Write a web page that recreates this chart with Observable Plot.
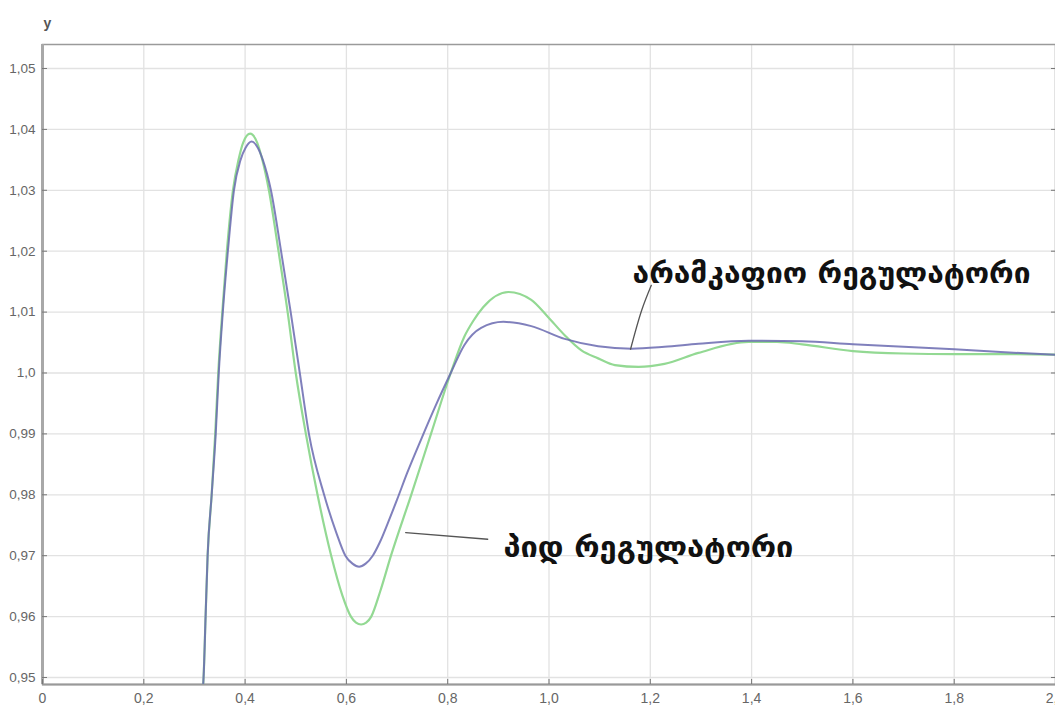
<!DOCTYPE html>
<html>
<head>
<meta charset="utf-8">
<script src="https://cdn.jsdelivr.net/npm/d3@7"></script>
<script src="https://cdn.jsdelivr.net/npm/@observablehq/plot@0.6"></script>
<style>
  html, body { margin: 0; padding: 0; background: #fff; }
  #chart svg { display: block; }
</style>
</head>
<body>
<div id="chart"></div>
<script>
// ---- data ----
const xTicks = [0, 0.2, 0.4, 0.6, 0.8, 1.0, 1.2, 1.4, 1.6, 1.8, 2.0];
const xTickLabels = ["0", "0,2", "0,4", "0,6", "0,8", "1,0", "1,2", "1,4", "1,6", "1,8", "2,0"];
const yTicks = [0.95, 0.96, 0.97, 0.98, 0.99, 1.0, 1.01, 1.02, 1.03, 1.04, 1.05];
const yTickLabels = ["0,95", "0,96", "0,97", "0,98", "0,99", "1,0", "1,01", "1,02", "1,03", "1,04", "1,05"];
const xDomain = [0, 2.0];
const yDomain = [0.94885, 1.05394];

const fuzzyName = "არამკაფიო რეგულატორი";
const fuzzyX = [0.300, 0.318, 0.322, 0.326, 0.334, 0.342, 0.348, 0.356, 0.366, 0.378, 0.391, 0.401, 0.413, 0.425, 0.435, 0.451, 0.471, 0.490, 0.508, 0.526, 0.556, 0.580, 0.598, 0.612, 0.625, 0.638, 0.652, 0.666, 0.682, 0.700, 0.720, 0.748, 0.776, 0.806, 0.833, 0.866, 0.910, 0.965, 1.031, 1.097, 1.163, 1.228, 1.295, 1.394, 1.500, 1.600, 1.700, 1.800, 1.900, 2.000];
const fuzzyY = [0.935, 0.950, 0.960, 0.970, 0.980, 0.990, 1.000, 1.010, 1.020, 1.030, 1.035, 1.037, 1.0380, 1.037, 1.035, 1.030, 1.020, 1.010, 1.000, 0.990, 0.980, 0.9738, 0.9700, 0.9687, 0.9682, 0.9687, 0.9700, 0.9722, 0.9754, 0.9792, 0.9836, 0.9892, 0.9946, 1.0000, 1.0046, 1.0074, 1.0084, 1.0077, 1.0056, 1.0044, 1.0040, 1.0043, 1.0048, 1.0053, 1.0052, 1.0047, 1.0043, 1.0039, 1.0034, 1.0030];

const pidName = "პიდ რეგულატორი";
const pidX = [0.300, 0.318, 0.322, 0.326, 0.334, 0.341, 0.347, 0.355, 0.364, 0.376, 0.387, 0.396, 0.410, 0.424, 0.434, 0.447, 0.466, 0.484, 0.500, 0.520, 0.543, 0.570, 0.592, 0.609, 0.619, 0.629, 0.639, 0.649, 0.667, 0.688, 0.728, 0.767, 0.806, 0.833, 0.850, 0.870, 0.920, 0.965, 0.998, 1.031, 1.064, 1.097, 1.130, 1.177, 1.228, 1.295, 1.394, 1.450, 1.500, 1.600, 1.700, 1.800, 1.900, 2.000];
const pidY = [0.935, 0.950, 0.960, 0.970, 0.980, 0.990, 1.000, 1.010, 1.020, 1.030, 1.035, 1.0378, 1.0393, 1.0378, 1.035, 1.030, 1.020, 1.010, 1.000, 0.990, 0.980, 0.970, 0.9635, 0.9600, 0.9590, 0.9587, 0.9590, 0.9600, 0.9642, 0.970, 0.980, 0.990, 1.000, 1.0060, 1.0085, 1.0108, 1.0133, 1.0120, 1.0092, 1.0062, 1.0037, 1.0024, 1.0013, 1.0010, 1.0015, 1.0033, 1.0051, 1.0051, 1.0047, 1.0036, 1.0032, 1.0031, 1.0031, 1.0030];

// annotation anchors (data coordinates)
const fuzzyLabelPos = {x: 1.165, y: 1.0163};
const fuzzyLeaderX = [1.202, 1.183, 1.161];
const fuzzyLeaderY = [1.0144, 1.0103, 1.0039];
const pidLabelPos = {x: 0.910, y: 0.9712};
const pidLeaderX = [0.717, 0.879];
const pidLeaderY = [0.9738, 0.9727];

// ---- build ----
const fuzzy = fuzzyX.map((x, i) => ({x, y: fuzzyY[i]}));
const pid = pidX.map((x, i) => ({x, y: pidY[i]}));
const fuzzyLeader = fuzzyLeaderX.map((x, i) => ({x, y: fuzzyLeaderY[i]}));
const pidLeader = pidLeaderX.map((x, i) => ({x, y: pidLeaderY[i]}));
const fmtX = d => xTickLabels[xTicks.findIndex(t => Math.abs(t - d) < 1e-9)];
const fmtY = d => yTickLabels[yTicks.findIndex(t => Math.abs(t - d) < 1e-9)];

const labelFont = "DejaVu Sans, Noto Sans, sans-serif";
const tickFont = "Liberation Sans, Arial, sans-serif";

const chart = Plot.plot({
  width: 1055,
  height: 711,
  marginLeft: 42,
  marginRight: 0,
  marginTop: 44,
  marginBottom: 27,
  style: {background: "#fff", fontFamily: tickFont, fontSize: "13px", color: "#666"},
  x: {domain: xDomain},
  y: {domain: yDomain},
  marks: [
    Plot.gridX(xTicks, {stroke: "#e2e2e2", strokeOpacity: 1, strokeWidth: 1.3}),
    Plot.gridY(yTicks, {stroke: "#e2e2e2", strokeOpacity: 1, strokeWidth: 1.3}),
    Plot.frame({stroke: "#9a9a9a", strokeWidth: 1.5}),
    Plot.ruleX([xDomain[0]], {stroke: "#a8a8a8", strokeWidth: 3}),
    Plot.ruleY([yDomain[0]], {stroke: "#999", strokeWidth: 2}),
    Plot.axisX({ticks: xTicks, tickFormat: fmtX, tickSize: -5, tickPadding: 14, stroke: "#777", fill: "#666", fontSize: 14, label: null}),
    Plot.axisY({ticks: yTicks, tickFormat: fmtY, tickSize: -5, tickPadding: 12, stroke: "#777", fill: "#666", fontSize: 13.5, label: null}),
    Plot.axisY({anchor: "right", ticks: yTicks, tickFormat: () => "", tickSize: -5, stroke: "#777", label: null}),
    Plot.line(pid, {x: "x", y: "y", stroke: "#93d993", strokeWidth: 2.2, curve: "monotone-x", clip: true}),
    Plot.line(fuzzy, {x: "x", y: "y", stroke: "#6a6ab0", strokeWidth: 2, strokeOpacity: 0.85, curve: "monotone-x", clip: true}),
    Plot.line(fuzzyLeader, {x: "x", y: "y", stroke: "#555", strokeWidth: 1.3, curve: "catmull-rom"}),
    Plot.line(pidLeader, {x: "x", y: "y", stroke: "#555", strokeWidth: 1.3}),
    Plot.text([fuzzyName], {x: fuzzyLabelPos.x, y: fuzzyLabelPos.y, text: d => d, textAnchor: "start", fontFamily: labelFont, fontWeight: "bold", fontSize: 28, fill: "#111"}),
    Plot.text([pidName], {x: pidLabelPos.x, y: pidLabelPos.y, text: d => d, textAnchor: "start", fontFamily: labelFont, fontWeight: "bold", fontSize: 28, fill: "#111"}),
    Plot.text(["y"], {frameAnchor: "top-left", text: d => d, dy: -26, dx: 1, fontSize: 14, fontWeight: "bold", fill: "#555", fontFamily: tickFont})
  ]
});
// stretch the two annotation labels to the widths seen in the reference
const labelWidths = {[fuzzyName]: 398, [pidName]: 290};
d3.select(chart).selectAll("text").each(function () {
  const t = this.textContent;
  if (labelWidths[t]) {
    d3.select(this).attr("textLength", labelWidths[t]).attr("lengthAdjust", "spacingAndGlyphs");
  }
});
document.getElementById("chart").appendChild(chart);
</script>
</body>
</html>
